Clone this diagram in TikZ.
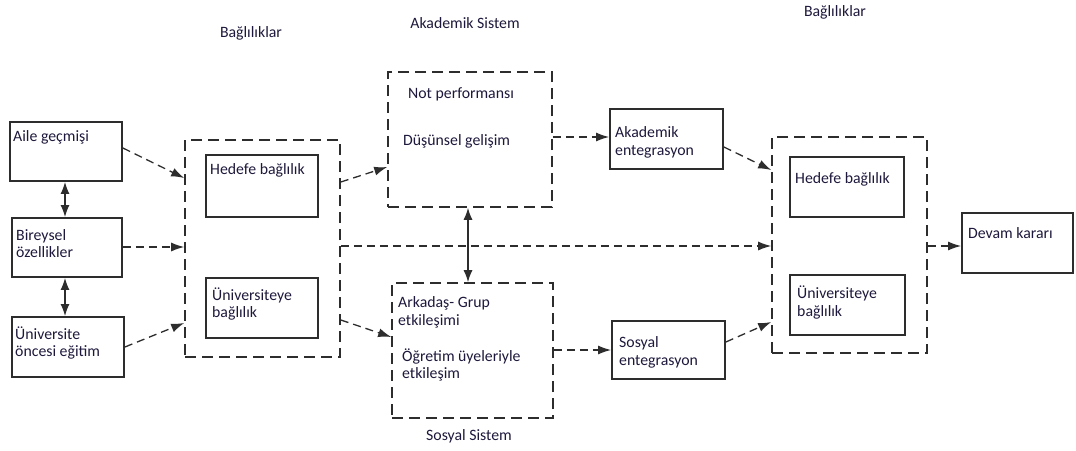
\documentclass[tikz,border=0pt]{standalone}
\usepackage{fontspec}
\setmainfont{Carlito}
\usetikzlibrary{arrows.meta}
\definecolor{ink}{RGB}{45,45,45}
\definecolor{txt}{RGB}{30,25,60}
\tikzset{
  x=1pt, y=-1pt,
  solidbox/.style={draw=ink, line width=1.8pt, inner sep=0pt, rectangle},
  dashbox/.style={draw=ink, line width=1.6pt, inner sep=0pt, rectangle,
                  dash pattern=on 11pt off 6pt},
  lbl/.style={anchor=base west, inner sep=0pt, text=txt, font=\fontsize{15.8}{18}\selectfont},
  title/.style={anchor=base, inner sep=0pt, text=txt, font=\fontsize{15.8}{18}\selectfont},
  flow/.style={draw=ink, line width=1.3pt, dash pattern=on 8pt off 5pt,
               -{Latex[length=13pt,width=9pt]}},
  both/.style={draw=ink, line width=1.4pt,
               {Latex[length=12pt,width=9pt]}-{Latex[length=12pt,width=9pt]}}
}
\begin{document}
\begin{tikzpicture}
\useasboundingbox[fill=white] (0,0) rectangle (1076,450);

% boxes
\node[solidbox, minimum width=112, minimum height=59] (aile) at (66,151.5) {};
\node[solidbox, minimum width=110, minimum height=59] (bir) at (67,247.5) {};
\node[solidbox, minimum width=112, minimum height=60] (uni) at (68,347) {};

\node[dashbox, minimum width=155, minimum height=217] (lbox) at (262.5,248.5) {};
\node[solidbox, minimum width=112, minimum height=62] (lhed) at (262,186) {};
\node[solidbox, minimum width=112, minimum height=60] (luni) at (262,308) {};

\node[dashbox, minimum width=164, minimum height=135] (akad) at (470,139.5) {};
\node[dashbox, minimum width=161, minimum height=135] (sosy) at (472.5,350.5) {};

\node[solidbox, minimum width=113, minimum height=60] (aent) at (666.5,139) {};
\node[solidbox, minimum width=113, minimum height=58] (sent) at (668.5,350) {};

\node[dashbox, minimum width=155, minimum height=216] (rbox) at (849.5,245) {};
\node[solidbox, minimum width=114, minimum height=60] (rhed) at (847,187) {};
\node[solidbox, minimum width=115, minimum height=60] (runi) at (847.5,305) {};

\node[solidbox, minimum width=111, minimum height=60] (devam) at (1017.5,243) {};

% titles
\node[title] (t1) at (251,37) {Bağlılıklar};
\node[title] (t2) at (465,28) {Akademik Sistem};
\node[title] (t3) at (835,16) {Bağlılıklar};
\node[title] (t4) at (469,440) {Sosyal Sistem};

% box texts
\node[lbl] (a1) at (13,141) {Aile geçmişi};
\node[lbl] (b1) at (16,240) {Bireysel};
\node[lbl] (b2) at (16,257) {özellikler};
\node[lbl] (u1) at (15,339) {Üniversite};
\node[lbl] (u2) at (15,356) {öncesi eğitim};

\node[lbl] (lh1) at (210,174) {Hedefe bağlılık};
\node[lbl] (lu1) at (212,300) {Üniversiteye};
\node[lbl] (lu2) at (212,317) {bağlılık};

\node[lbl] (k1) at (408,98) {Not performansı};
\node[lbl] (k2) at (403,145) {Düşünsel gelişim};

\node[lbl] (s1) at (398,307) {Arkadaş- Grup};
\node[lbl] (s2) at (398,325) {etkileşimi};
\node[lbl] (s3) at (402,361) {Öğretim üyeleriyle};
\node[lbl] (s4) at (402,378) {etkileşim};

\node[lbl] (ae1) at (615,137) {Akademik};
\node[lbl] (ae2) at (615,155) {entegrasyon};
\node[lbl] (se1) at (619,347) {Sosyal};
\node[lbl] (se2) at (619,365) {entegrasyon};

\node[lbl] (rh1) at (795,183) {Hedefe bağlılık};
\node[lbl] (ru1) at (797,298) {Üniversiteye};
\node[lbl] (ru2) at (797,316) {bağlılık};

\node[lbl] (d1) at (968,238) {Devam kararı};

% two-way links
\draw[both] (aile.south -| 65,0) -- (bir.north -| 65,0);
\draw[both] (bir.south -| 65,0) -- (uni.north -| 65,0);
\draw[both] (akad.south -| 468,0) -- (sosy.north -| 468,0);

% flows
\draw[flow] (aile.east |- 0,148) -- (lbox.west |- 0,178);
\draw[flow] (bir.east |- 0,247) -- (lbox.west |- 0,247);
\draw[flow] (uni.east |- 0,347) -- (lbox.west |- 0,323);

\draw[flow] (lbox.east |- 0,182) -- (akad.west |- 0,167);
\draw[flow] (lbox.east |- 0,320) -- (sosy.west |- 0,337);
\draw[flow] (lbox.east |- 0,246) -- (rbox.west |- 0,246);

\draw[flow] (akad.east |- 0,137) -- (aent.west |- 0,137);
\draw[flow] (sosy.east |- 0,350) -- (sent.west |- 0,350);

\draw[flow] (aent.east |- 0,147) -- (rbox.west |- 0,170);
\draw[flow] (sent.east |- 0,342) -- (rbox.west |- 0,322);

\draw[flow] (rbox.east |- 0,246) -- (devam.west |- 0,246);
\end{tikzpicture}
\end{document}
